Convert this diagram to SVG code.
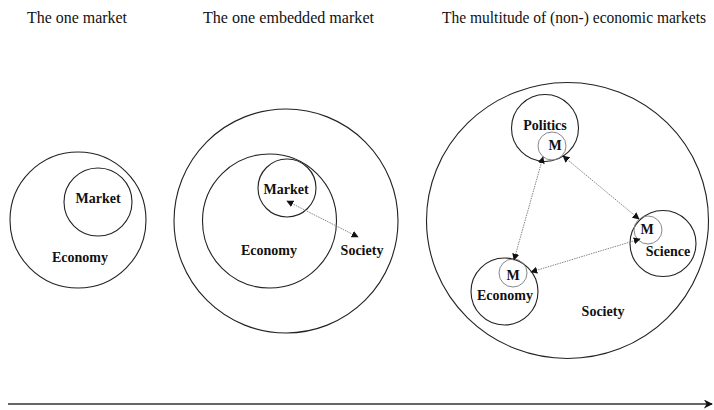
<svg xmlns="http://www.w3.org/2000/svg" width="714" height="410" viewBox="0 0 714 410">
<style>
.title{font-family:"Liberation Serif",serif;font-size:16px;fill:#111}
.lbl{font-family:"Liberation Serif",serif;font-size:14px;font-weight:bold;fill:#111;text-anchor:middle}
.c{fill:none;stroke:#222;stroke-width:1.1}
.m{fill:none;stroke:#888;stroke-width:1}
.con{stroke:#777;stroke-width:0.9;stroke-dasharray:1.5 1;fill:none;marker-start:url(#ah);marker-end:url(#ah)}
</style>
<defs>
<marker id="ah" viewBox="0 0 10 10" refX="9" refY="5" markerWidth="7" markerHeight="7" markerUnits="userSpaceOnUse" orient="auto-start-reverse">
<path d="M0,0 L10,5 L0,10 Z" fill="#111"/>
</marker>
<marker id="ah2" viewBox="0 0 10 10" refX="9" refY="5" markerWidth="9" markerHeight="9" markerUnits="userSpaceOnUse" orient="auto">
<path d="M0,0 L10,5 L0,10 L3,5 Z" fill="#111"/>
</marker>
</defs>
<text class="title" x="27" y="23" textLength="100" lengthAdjust="spacingAndGlyphs">The one market</text>
<text class="title" x="203" y="23" textLength="171" lengthAdjust="spacingAndGlyphs">The one embedded market</text>
<text class="title" x="442" y="23" textLength="264" lengthAdjust="spacingAndGlyphs">The multitude of  (non-) economic markets</text>

<g id="panel1">
<g id="p1-economy"><circle class="c" cx="78" cy="220" r="68"/><text class="lbl" x="80" y="262">Economy</text></g>
<g id="p1-market"><circle class="c" cx="98" cy="202" r="34"/><text class="lbl" x="98" y="203">Market</text></g>
</g>

<g id="panel2">
<g id="p2-society"><circle class="c" cx="286" cy="221" r="112"/><text class="lbl" x="362" y="255">Society</text></g>
<g id="p2-economy"><circle class="c" cx="269.5" cy="221" r="67"/><text class="lbl" x="269" y="255">Economy</text></g>
<g id="p2-market"><circle class="c" cx="287" cy="188" r="29"/><text class="lbl" x="286" y="194">Market</text></g>
</g>

<g id="panel3">
<g id="p3-society"><ellipse class="c" cx="567.5" cy="220.5" rx="141" ry="138"/><text class="lbl" x="603" y="316">Society</text></g>
<g id="p3-politics"><circle class="c" cx="545" cy="128" r="33.5"/><text class="lbl" x="545" y="130">Politics</text>
<circle class="m" cx="552" cy="146" r="14"/><text class="lbl" x="555" y="150">M</text></g>
<g id="p3-science"><circle class="c" cx="663" cy="243.5" r="33"/><text class="lbl" x="668" y="256">Science</text>
<circle class="m" cx="648" cy="230" r="14"/><text class="lbl" x="647" y="234">M</text></g>
<g id="p3-economy"><circle class="c" cx="504.5" cy="291.5" r="33.5"/><text class="lbl" x="505" y="300">Economy</text>
<circle class="m" cx="513" cy="273" r="14"/><text class="lbl" x="513" y="280">M</text></g>
</g>

<g id="connectors">
<line class="con" x1="287" y1="201" x2="358" y2="237"/>
<line class="con" x1="543" y1="157" x2="514" y2="260"/>
<line class="con" x1="563" y1="156" x2="639" y2="219"/>
<line class="con" x1="531" y1="272" x2="640" y2="239"/>
<line x1="8" y1="404" x2="712" y2="404" stroke="#333" stroke-width="1.3" marker-end="url(#ah2)"/>
</g>
</svg>
